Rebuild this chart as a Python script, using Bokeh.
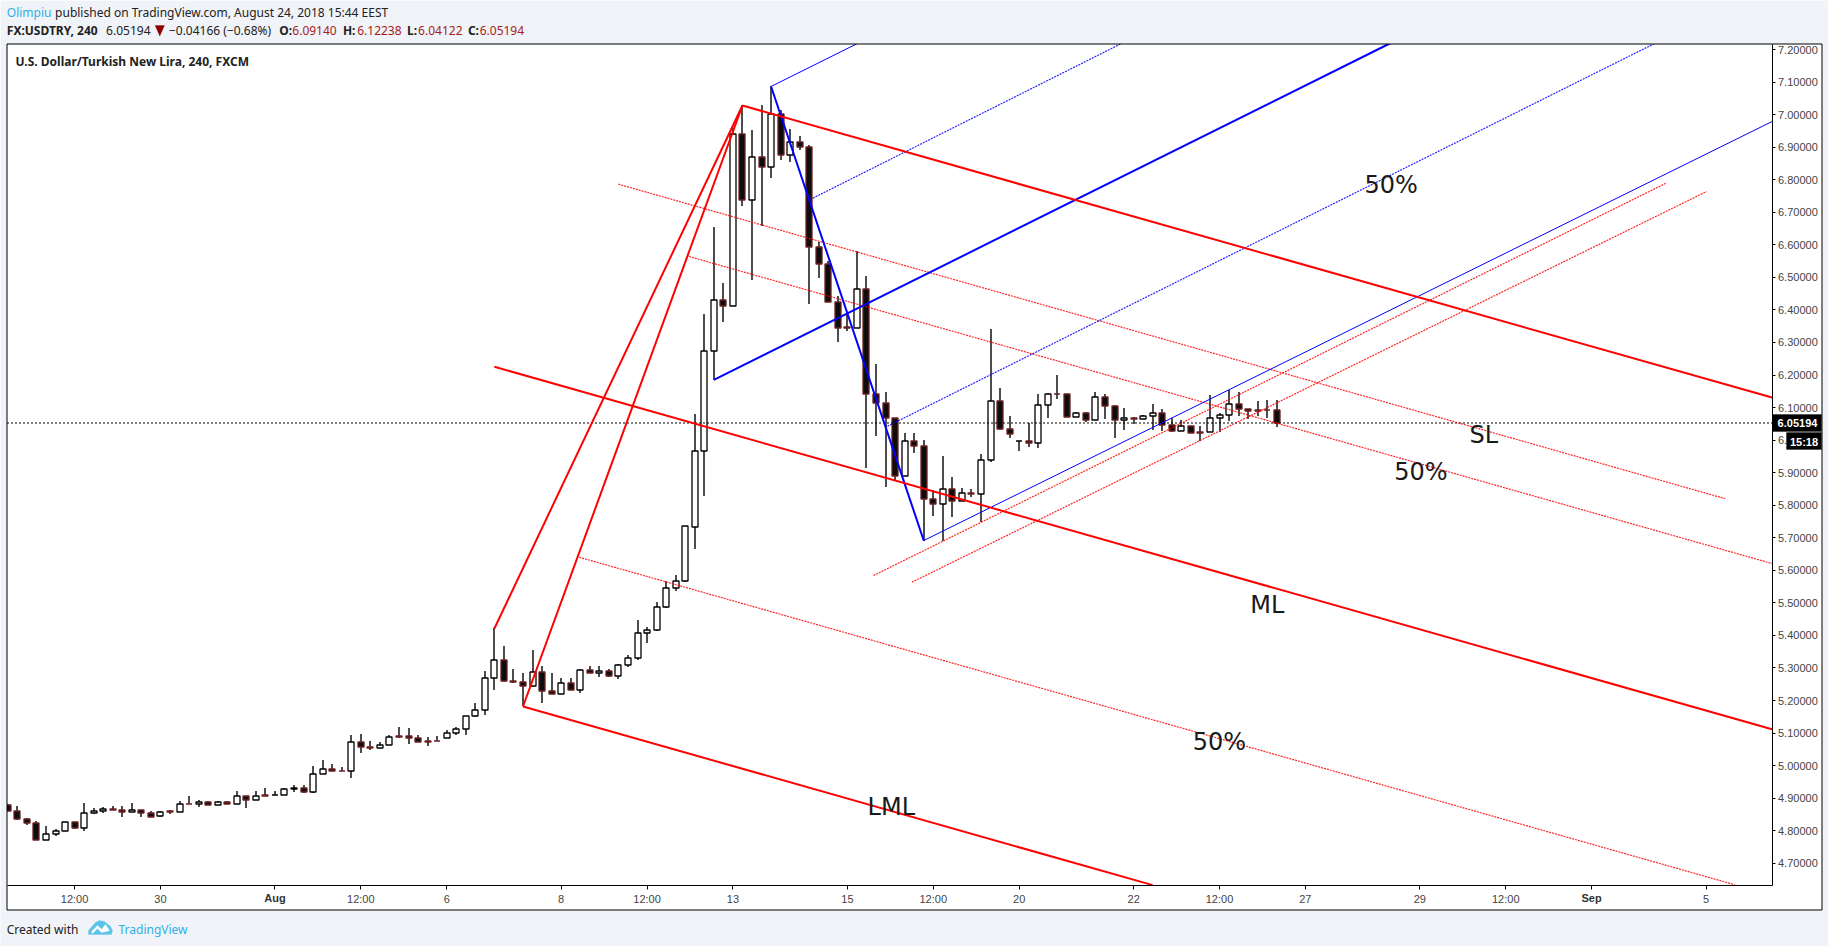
import math
from bokeh.plotting import figure
from bokeh.embed import file_html
from bokeh.resources import INLINE
from bokeh.models import (Label, BoxAnnotation, PolyAnnotation, FixedTicker, NumeralTickFormatter,
                          Range1d, ColumnDataSource)
from bokeh.core.properties import value

# ---------- data (USD/TRY, 4h bars) ----------
opens = [4.8795,4.861,4.8365,4.8242,4.7719,4.7893,4.7996,4.8272,4.8078,4.8539,
4.859,4.8672,4.8641,4.858,4.8641,4.8549,4.8447,4.859,4.858,4.8826,
4.8815,4.8887,4.8795,4.8887,4.8826,4.9061,4.8948,4.9102,4.9092,4.9102,
4.9286,4.9307,4.9184,4.9747,4.9901,4.9839,4.9839,5.073,5.0577,5.0546,
5.0638,5.0915,5.0915,5.0853,5.0751,5.0761,5.0853,5.1007,5.113,5.1529,
5.1713,5.2696,5.3249,5.2604,5.2574,5.244,5.2881,5.2297,5.2205,5.2543,
5.2328,5.2942,5.285,5.2912,5.2758,5.3096,5.3311,5.4079,5.4171,5.4878,
5.5461,5.5677,5.7335,5.967,6.2743,6.431,6.4125,6.941,6.7382,6.8703,
6.8396,7.0024,6.8764,6.9164,6.901,6.5938,6.5416,6.4248,6.346,6.345,
6.4648,6.1421,6.1145,6.0684,5.8892,5.9977,5.9823,5.8195,5.8042,5.8503,
5.8134,5.838,5.8349,5.9393,6.1206,6.0346,5.9967,5.9977,5.9916,6.1083,
6.1431,6.1421,6.0715,6.0837,6.0622,6.1329,6.1052,6.0622,6.0684,6.0653,
6.0745,6.0837,6.0469,6.0284,6.0438,6.0254,6.0243,6.0684,6.0776,6.1114,
6.096,6.093,6.093,6.0914]
highs = [4.8805,4.8744,4.8396,4.8313,4.8149,4.8047,4.8272,4.8272,4.8836,4.8703,
4.8733,4.8744,4.8744,4.8836,4.8641,4.861,4.861,4.8641,4.8918,4.9071,
4.8938,4.8918,4.8908,4.8918,4.9235,4.9061,4.9225,4.9297,4.9225,4.9317,
4.9389,4.9389,5.0003,5.0157,5.0054,4.9972,5.0925,5.0956,5.0771,5.074,
5.0945,5.1171,5.114,5.0945,5.0894,5.0904,5.1099,5.1171,5.1519,5.1908,
5.2891,5.4212,5.3659,5.2953,5.285,5.3557,5.3065,5.283,5.2676,5.2697,
5.2973,5.3065,5.3045,5.2953,5.3127,5.3403,5.4478,5.4263,5.5031,5.5677,
5.5861,5.7376,6.0807,6.386,6.6532,6.4812,6.96,7.028,6.9512,7.028,
7.0864,7.0147,6.9563,6.9328,6.9072,6.6081,6.5508,6.4412,6.388,6.5795,
6.5027,6.2343,6.1493,6.0684,6.0223,6.0223,6.0008,5.8472,5.9516,5.8881,
5.8533,5.8503,5.9578,6.3418,6.1605,6.0745,5.9977,6.053,6.1421,6.1462,
6.2005,6.1421,6.0878,6.0878,6.1493,6.1421,6.1083,6.0991,6.0704,6.0776,
6.1114,6.096,6.0674,6.0622,6.0438,6.0438,6.139,6.0837,6.1544,6.1493,
6.096,6.1216,6.1247,6.12238]
lows = [4.86,4.8323,4.817,4.7719,4.7719,4.7832,4.7996,4.8047,4.8006,4.8508,
4.8549,4.8631,4.8436,4.858,4.8406,4.8416,4.8416,4.8518,4.858,4.8805,
4.8713,4.8795,4.8795,4.8826,4.8826,4.8692,4.8948,4.9071,4.9092,4.9102,
4.9184,4.9153,4.9153,4.9747,4.9839,4.9829,4.9614,5.0382,5.0474,5.0546,
5.0638,5.0853,5.0659,5.073,5.0597,5.0751,5.0853,5.0945,5.0935,5.1498,
5.1549,5.2317,5.2563,5.2533,5.1816,5.241,5.1918,5.2195,5.2205,5.2328,
5.2225,5.284,5.2717,5.2717,5.2656,5.3024,5.3239,5.3762,5.413,5.4837,
5.5359,5.5647,5.664,5.827,6.1852,6.3614,6.4125,6.7177,6.4904,6.6573,
6.8048,6.859,6.8529,6.8898,6.4177,6.4965,6.4248,6.2999,6.3347,6.345,
5.9138,6.0141,5.8554,5.8789,5.8892,5.9598,5.6915,5.7663,5.6915,5.7632,
5.8134,5.8247,5.7478,5.9322,6.0315,6.0059,5.966,5.9783,5.9752,6.0694,
6.1257,6.0715,6.0704,6.0551,6.0622,6.0663,6.0059,6.0295,6.05,6.0653,
6.0295,6.0274,6.0243,6.0284,6.0223,5.9987,6.0243,6.0243,6.0581,6.0735,
6.0643,6.0735,6.0694,6.04122]
closes = [4.86,4.8354,4.8232,4.7719,4.7904,4.7996,4.8272,4.8078,4.8549,4.861,
4.8672,4.8631,4.857,4.8641,4.8549,4.8426,4.858,4.857,4.8826,4.8815,
4.8887,4.8795,4.8887,4.8826,4.9061,4.8948,4.9061,4.9071,4.9102,4.9276,
4.9317,4.9194,4.9747,4.9901,4.9839,4.9829,5.073,5.0577,5.0546,5.0638,
5.0884,5.0884,5.0863,5.073,5.073,5.0751,5.0996,5.113,5.1519,5.1713,
5.2696,5.3249,5.2604,5.2563,5.2451,5.2881,5.2297,5.2195,5.2543,5.2328,
5.2942,5.284,5.2912,5.2748,5.3096,5.3311,5.4079,5.4171,5.4878,5.5461,
5.5677,5.7346,5.967,6.2743,6.431,6.4125,6.941,6.7382,6.8703,6.8396,
7.0024,6.8764,6.9164,6.9,6.5938,6.5416,6.4248,6.345,6.345,6.4648,
6.1421,6.1145,6.0684,5.8892,5.9977,5.9813,5.8195,5.8042,5.8503,5.8134,
5.838,5.8349,5.9393,6.1206,6.0346,6.0192,5.9977,5.9916,6.1083,6.1421,
6.1421,6.0715,6.0837,6.0622,6.1329,6.1052,6.0622,6.0684,6.0653,6.0745,
6.0837,6.0469,6.0284,6.0438,6.0223,6.0223,6.0684,6.0776,6.1114,6.096,
6.0909,6.0899,6.092,6.05194]
last_price = 6.05194

y_ticks = [4.7,4.8,4.9,5.0,5.1,5.2,5.3,5.4,5.5,5.6,5.7,5.8,5.9,6.0,6.1,6.2,6.3,6.4,6.5,6.6,6.7,6.8,6.9,7.0,7.1,7.2]
x_tick_bars = [7,16,28,37,46,58,67,76,88,97,106,118,127,136,148,157,166,178]
x_tick_labels = ["12:00","30","","12:00","6","8","12:00","13","15","12:00","20","22","12:00","27","29","12:00","","5"]
bold_tick_bars = [28,166]
bold_tick_labels = ["Aug","Sep"]

# drawing tools: (bar, price) end points
red_thick = [([51,77],[5.4212,7.028]), ([54,77],[5.1816,7.028]),
             ([77,185],[7.028,6.1299]), ([51,185],[6.2252,5.1109]), ([54,120],[5.1816,4.6327])]
red_dotted = [([64,180],[6.7862,5.82]), ([71.4,185],[6.564,5.62]), ([59.9,181],[5.64,4.634]),
              ([90.74,173.8],[5.584,6.7892]), ([94.76,178.05],[5.5634,6.7637])]
blue_thick = [([80,96],[7.0864,5.6915]), ([74,145],[6.1852,7.2207])]
blue_thin = [([80,90],[7.0864,7.2323]), ([96,185],[5.6915,6.98])]
blue_dotted = [([84.1,120],[6.7392,7.2665]), ([92.2,175],[6.0427,7.2535])]

note_bars = [145.0,154.7,148.1,132.0,127.0,92.6]
note_prices = [6.7852,6.0172,5.9005,5.4919,5.0725,4.8713]
note_texts = ["50%","SL","50%","ML","50%","LML"]

# ---------- scale helpers: page pixels <-> bars / prices ----------
PX_PER_BAR = 9.541; X0 = 7.3
PX_PER_UNIT = 325.5; Y72 = 49.0
def X(px): return (px - X0) / PX_PER_BAR
def Y(py): return 7.2 - (py - Y72) / PX_PER_UNIT
def snap_x(i): return X(math.floor(X0 + PX_PER_BAR * i) + 0.5)
def snap_y(v): return Y(math.floor(Y72 + (7.2 - v) * PX_PER_UNIT) + 0.5)

GRAY = "#f0f3f7"
TXT = "#444444"
p = figure(width=1828, height=946, output_backend="svg", toolbar_location=None,
           x_range=Range1d(X(0), X(1828)), y_range=Range1d(Y(946), Y(0)),
           frame_width=1828, frame_height=946, margin=(0,0,0,0),
           x_axis_location="below", y_axis_location="right",
           min_border=0, border_fill_color=GRAY, background_fill_color="white",
           outline_line_color=None)
p.grid.visible = False

ax = p.yaxis[0]
ax.fixed_location = X(1771.5)
ax.bounds = (Y(884.5), Y(43.5))
ax.ticker = FixedTicker(ticks=y_ticks)
ax.formatter = NumeralTickFormatter(format="0.00000")
ax.major_tick_in = 0; ax.major_tick_out = 3; ax.minor_tick_line_color = None
ax.major_label_text_font = "Liberation Sans"; ax.major_label_text_font_size = "11px"
ax.major_label_text_color = TXT; ax.axis_line_color = "black"; ax.major_tick_line_color = "black"
ax.major_label_standoff = 3
bx = p.xaxis[0]
bx.fixed_location = Y(884.5)
bx.bounds = (X(6.5), X(1771.5))
bx.ticker = FixedTicker(ticks=x_tick_bars)
bx.major_label_overrides = dict(zip(x_tick_bars, x_tick_labels))
bx.major_tick_in = 0; bx.major_tick_out = 4; bx.minor_tick_line_color = None
bx.major_label_text_font = "Liberation Sans"; bx.major_label_text_font_size = "11px"
bx.major_label_text_color = TXT; bx.axis_line_color = "black"; bx.major_tick_line_color = "black"
bx.major_label_standoff = 4

idx = list(range(len(opens)))
half = 3 / PX_PER_BAR
xs = [snap_x(i) for i in idx]
src = ColumnDataSource(dict(
    x=xs, hi=[snap_y(v) for v in highs], lo=[snap_y(v) for v in lows],
    left=[x - half for x in xs], right=[x + half for x in xs],
    top=[snap_y(max(a, b)) for a, b in zip(opens, closes)],
    bot=[snap_y(min(a, b)) for a, b in zip(opens, closes)],
    fill=["white" if c >= o else "#0d0d0d" for o, c in zip(opens, closes)],
    edge=["black" if c >= o else "#6b2020" for o, c in zip(opens, closes)],
))
p.segment("x", "hi", "x", "lo", source=src, line_color="black", line_width=1.4)
p.quad(left="left", right="right", top="top", bottom="bot", source=src,
       fill_color="fill", line_color="edge", line_width=1.3)

def draw(lines, color, width, dash="solid", alpha=1.0):
    for xs_, ys_ in lines:
        p.line(xs_, ys_, line_color=color, line_width=width, line_dash=dash, line_alpha=alpha)

p.line([X(6.5), X(1771.5)], [snap_y(last_price)]*2, line_color="black", line_width=1, line_dash="2 2")
draw(red_dotted, "#ff0000", 1.2, "2 1", 0.85)
draw(blue_dotted, "#0000ff", 1.2, "2 1", 0.85)
draw(blue_thin, "#0000ff", 1)
draw(blue_thick, "#0000ff", 2)
draw(red_thick, "#ff0000", 2)

p.text(note_bars, note_prices, text=note_texts, text_font=value("DejaVu Sans"), text_font_size="24px",
       text_align="center", text_baseline="middle", text_color="#1a1a1a")

# page panels, drawn over the marks so that they clip them (axes are painted above these)
for l_, r_, t_, b_, c_ in [(0,1828,0,43.5,GRAY), (0,1828,909.5,946,GRAY), (0,6.5,0,946,GRAY), (1821.5,1828,0,946,GRAY),
                           (1771.5,1821.5,43.5,909.5,"white"), (6.5,1771.5,884.5,909.5,"white")]:
    p.quad(left=[X(l_)], right=[X(r_)], top=[Y(t_)], bottom=[Y(b_)], fill_color=c_, line_color=None)
p.quad(left=[X(6.5)], right=[X(1821.5)], top=[Y(43.5)], bottom=[Y(909.5)], fill_color=None, line_color="black", line_width=1)

def lab(x, y, t, color="#222222", bold=False, size="12px", font="Noto Sans", align="left"):
    p.add_layout(Label(x=x, y=y, x_units="canvas", y_units="canvas", text=t, text_color=color,
                       text_font=font, text_font_size=size, text_font_style="bold" if bold else "normal",
                       text_align=align, text_baseline="middle", level="overlay"))

BLUE = "#2fb0e6"; DRED = "#a81c1c"
lab(6.3, 12, "Olimpiu", BLUE)
lab(54.6, 12, "published on TradingView.com, August 24, 2018 15:44 EEST")
lab(6.3, 29.5, "FX:USDTRY, 240", bold=True)
lab(105.6, 29.5, "6.05194")
lab(168.4, 29.5, "\u22120.04166 (\u22120.68%)")
for x1, t1, x2, t2 in [(278.8,"O:",291.8,"6.09140"),(342.4,"H:",356.7,"6.12238"),
                       (406.5,"L:",417.6,"6.04122"),(467.4,"C:",479.2,"6.05194")]:
    lab(x1, 29.5, t1, bold=True)
    lab(x2, 29.5, t2, DRED)
p.add_layout(PolyAnnotation(xs=[154.6,164,159.3], ys=[25,25,35.5], xs_units="canvas", ys_units="canvas",
                            fill_color="#8b0000", fill_alpha=1, line_color="#8b0000", level="overlay"))
lab(15, 61, "U.S. Dollar/Turkish New Lira, 240, FXCM", bold=True)
lab(6.2, 928.7, "Created with")
lab(118, 928.7, "TradingView", BLUE)

# TradingView logo
p.add_layout(PolyAnnotation(xs=[88,95,99,104,110,112,111,88], ys=[930,922,920,921,926,930,934,934],
                            xs_units="canvas", ys_units="canvas", fill_color="#5cc3e8", fill_alpha=1, line_color="#5cc3e8", level="overlay"))
p.add_layout(PolyAnnotation(xs=[91,97,101,105,109,106,101,97,92], ys=[931,925,929,924,930,931,932,928,933],
                            xs_units="canvas", ys_units="canvas", fill_color="white", fill_alpha=1, line_color="white", level="overlay"))

for bx_, tx in zip(bold_tick_bars, bold_tick_labels):
    p.add_layout(Label(x=bx_, y=897.7, x_units="data", y_units="canvas", text=tx, text_color="#333333",
                       text_font="Liberation Sans", text_font_size="11px", text_font_style="bold",
                       text_align="center", text_baseline="middle", level="overlay"))

# price tags
p.add_layout(BoxAnnotation(left=1772, right=1821, top=414, bottom=431, left_units="canvas", right_units="canvas",
                           top_units="canvas", bottom_units="canvas", fill_color="black", fill_alpha=1, line_color="black", level="annotation"))
p.add_layout(BoxAnnotation(left=1786, right=1821, top=432, bottom=449, left_units="canvas", right_units="canvas",
                           top_units="canvas", bottom_units="canvas", fill_color="black", fill_alpha=1, line_color="black", level="annotation"))
lab(1797, 422.7, "6.05194", "white", True, "11px", "Liberation Sans", "center")
lab(1803.5, 441, "15:18", "white", True, "11px", "Liberation Sans", "center")

open("out.html", "w").write(file_html(p, INLINE))
